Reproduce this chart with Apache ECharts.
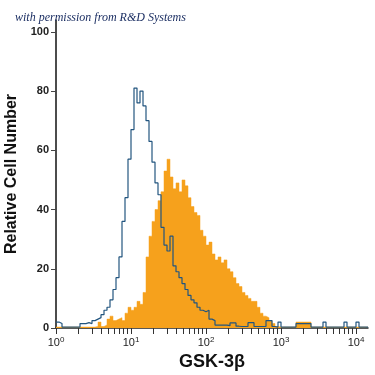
<!DOCTYPE html>
<html>
<head>
<meta charset="utf-8">
<script src="https://cdn.jsdelivr.net/npm/echarts@6/dist/echarts.min.js"></script>
<style>
  html, body { margin: 0; padding: 0; background: #fff; }
  #chart { width: 375px; height: 375px; }
</style>
</head>
<body>
<div id="chart"></div>
<script>
// histogram channels, 0.04 decade wide, starting at 10^0
const binWidth = 0.04
const isotypeCounts = [
  2, 1.5, 0.3, 0.3, 0.3, 0.3, 0.3, 0.3, 1.5, 1.5,
  1.8, 1.5, 2.5, 3, 3.5, 4.5, 6, 7, 9.5, 13,
  17, 24, 36, 44, 57, 67, 81, 76, 80, 75,
  70, 63, 56, 49, 45, 34, 28, 26, 31, 21,
  19, 17, 15, 13, 11, 9.5, 8.5, 7, 6, 5.5,
  6, 3, 2.5, 1, 1, 1, 1, 0.8, 1.7, 1.7,
  0.6, 0.5, 0.5, 0.5, 1.8, 1.8, 0.5, 0.5, 0.5, 0.5,
  2.5, 2.5, 0.5, 0.3, 2, 0.3, 0.3, 0.3, 0.3, 0.3,
  1.5, 1.5, 1.5, 1.5, 1.5, 0.3, 0.3, 0.3, 0.3, 2,
  0.3, 0.3, 0.3, 0.3, 0.3, 0.3, 2, 0.3, 0.3, 0.3,
  2, 0.3, 0.3, 0.3
]
const gsk3bCounts = [
  0.3, 0.3, 0.3, 0.3, 0.3, 0.3, 0.3, 0.3, 0.3, 0.3,
  0.3, 0.3, 0.3, 0.5, 2, 0.5, 1, 3, 4, 2.5,
  3, 3.5, 2.5, 5, 7, 6, 7, 9, 8, 12,
  24, 31, 36, 40, 43, 46, 53, 57, 51, 47,
  49, 46, 50, 48, 44, 41, 39, 38, 33, 31,
  28, 29, 25, 23, 24, 22, 23, 20, 19, 17,
  15, 14, 12, 11, 10, 9, 9, 7, 5, 4,
  3.5, 2.5, 1.5, 0.5, 0.3, 0.3, 0.3, 0.3, 0.3, 0.3,
  2, 2, 2, 2, 2, 0.3, 0.3, 0.3, 0.3, 0.3,
  0.3, 0.3, 0.3, 0.3, 0.3, 0.3, 0.3, 0.3, 0.3, 0.3,
  0.3, 0.3, 0.3, 0.3
]
const decades = [0, 1, 2, 3, 4]
const yTicks = [0, 20, 40, 60, 80, 100]

function toPoints(counts) {
  const pts = counts.map((v, i) => [i * binWidth, v])
  pts.push([counts.length * binWidth, counts[counts.length - 1]])
  return pts
}

// major + minor tick positions on the log10 scale
const tickValues = []
decades.forEach(d => {
  for (let k = 1; k <= 9; k++) {
    const t = d + Math.log10(k)
    if (t <= 4.16) tickValues.push(t)
  }
})

const chart = echarts.init(document.getElementById('chart'))

const option = {
  animation: false,
  title: {
    text: 'with permission from R&D Systems',
    left: 10,
    top: 7,
    textStyle: {
      fontFamily: 'Liberation Serif',
      fontStyle: 'italic',
      fontWeight: 'normal',
      fontSize: 12,
      color: '#1c2f63'
    }
  },
  grid: { left: 56, right: 7, top: 20, bottom: 47, outerBoundsMode: 'none' },
  xAxis: {
    type: 'value',
    min: 0,
    max: 4.16,
    name: 'GSK-3β',
    nameLocation: 'middle',
    nameGap: 13,
    nameTextStyle: {
      fontFamily: 'Liberation Sans',
      fontWeight: 'bold',
      fontSize: 18,
      color: '#111'
    },
    axisLine: { lineStyle: { color: '#222', width: 1.5 } },
    axisTick: {
      customValues: tickValues,
      length: 6,
      lineStyle: { color: '#333', width: 1 }
    },
    axisLabel: {
      customValues: decades,
      margin: 8,
      formatter: v => '10{sup|' + Math.round(v) + '}',
      fontFamily: 'Liberation Sans',
      fontSize: 11,
      color: '#222',
      rich: {
        sup: { fontSize: 8, padding: [0, 0, 6, 0], color: '#222' }
      }
    },
    splitLine: { show: false }
  },
  yAxis: {
    type: 'value',
    min: 0,
    max: 104,
    name: 'Relative Cell Number',
    nameLocation: 'middle',
    nameGap: 31,
    nameTextStyle: {
      fontFamily: 'Liberation Sans',
      fontWeight: 'bold',
      fontSize: 16,
      color: '#111'
    },
    axisLine: { show: true, lineStyle: { color: '#111', width: 1.5 } },
    axisTick: {
      show: true,
      customValues: yTicks,
      length: 5,
      lineStyle: { color: '#444' }
    },
    axisLabel: {
      customValues: yTicks,
      margin: 7,
      fontFamily: 'Liberation Sans',
      fontWeight: 'bold',
      fontSize: 11,
      color: '#222'
    },
    splitLine: { show: false }
  },
  series: [
    {
      name: 'GSK-3β',
      type: 'line',
      step: 'end',
      showSymbol: false,
      data: toPoints(gsk3bCounts),
      lineStyle: { width: 0.5, color: '#f6a11c' },
      areaStyle: { color: '#f6a11c', opacity: 1 },
      z: 2
    },
    {
      name: 'Isotype',
      type: 'line',
      step: 'end',
      showSymbol: false,
      data: toPoints(isotypeCounts),
      lineStyle: { width: 1.2, color: '#22557f' },
      z: 3
    }
  ]
}

chart.setOption(option)
</script>
</body>
</html>
